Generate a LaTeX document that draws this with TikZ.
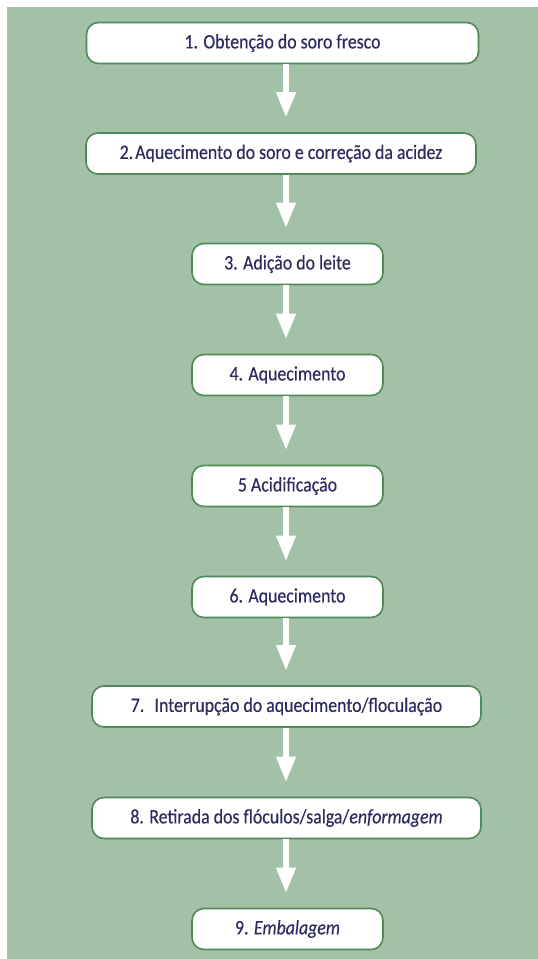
\documentclass[tikz,border=0pt]{standalone}
\usepackage{fontspec}
\setmainfont{Carlito}[FakeStretch=0.87, FakeBold=0.35]
\usetikzlibrary{arrows.meta}
\definecolor{panel}{HTML}{A3C1A6}
\definecolor{frame}{HTML}{4F8A57}
\definecolor{ink}{HTML}{2E2B60}
\tikzset{
  stepbox/.style={draw=frame, line width=1.6pt, fill=white, rounded corners=12pt,
    minimum height=41pt, inner sep=0pt, text=ink,
    font=\fontsize{20.5pt}{22pt}\selectfont},
  flow/.style={draw=white, line width=6.5pt,
    -{Triangle[width=18pt,length=26pt]}}
}
\begin{document}
\begin{tikzpicture}[x=1pt,y=-1pt]
  \useasboundingbox (0,0) rectangle (538,959);
  \fill[panel] (7,7) rectangle (538,959);
  \coordinate (ax) at (286,0);
  \node[stepbox, minimum width=392pt] (b1) at (282.5,43) {1. Obtenção do soro fresco};
  \node[stepbox, minimum width=390pt] (b2) at (281,153.5) {2.\kern2pt Aquecimento do soro e correção da acidez};
  \node[stepbox, minimum width=191pt] (b3) at (287.5,264) {3. Adição do leite};
  \node[stepbox, minimum width=191pt] (b4) at (287.5,375) {4. Aquecimento};
  \node[stepbox, minimum width=191pt] (b5) at (287.5,486) {5 Acidificação};
  \node[stepbox, minimum width=191pt] (b6) at (287.5,597) {6. Aquecimento};
  \node[stepbox, minimum width=389pt] (b7) at (286.5,706.5) {7.\enspace Interrupção do aquecimento/floculação};
  \node[stepbox, minimum width=389pt] (b8) at (286.5,818) {8. Retirada dos flóculos/salga/\textit{enformagem}};
  \node[stepbox, minimum width=191pt] (b9) at (287.5,929) {9. \textit{Embalagem}};
  \foreach \a/\b in {b1/b2,b2/b3,b3/b4,b4/b5,b5/b6,b6/b7,b7/b8,b8/b9}
    \draw[flow] (\a.south -| ax) -- ([yshift=14pt]\b.north -| ax);
\end{tikzpicture}
\end{document}
